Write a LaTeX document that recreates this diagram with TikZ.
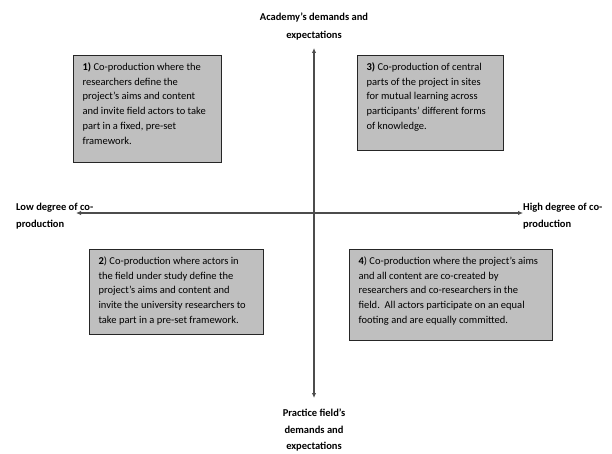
\documentclass[tikz,border=0pt]{standalone}
\usepackage{fontspec}
\setmainfont{Carlito}
\usetikzlibrary{arrows.meta}

\begin{document}
\begin{tikzpicture}[
        x=1pt, y=-1pt,
        quadrant/.style={rectangle, draw=black!85, line width=1.1pt, fill=black!25, anchor=north west, inner xsep=9pt, inner ysep=7pt, font=\fontsize{10.5}{14.8}\selectfont},
        axis/.style={draw=black!70, line width=1.3pt, {Latex[length=5pt,width=4.5pt]}-{Latex[length=5pt,width=4.5pt]}},
        axis_label/.style={font=\fontsize{10.5}{17.5}\selectfont\bfseries, inner sep=0pt}
    ]
        \useasboundingbox (0,0) rectangle (612,454);

        % axes
        \coordinate (axis_left) at (76,213);
        \coordinate (axis_right) at (523,213);
        \coordinate (axis_top) at (314,48);
        \coordinate (axis_bottom) at (314,398);
        \draw[axis] (axis_left) -- (axis_right);
        \draw[axis] (axis_top) -- (axis_bottom);

        % axis labels
        \node[axis_label, align=center, anchor=south] (academy) at (314,40) {Academy’s demands and\\expectations};
        \node[axis_label, align=center, anchor=north, font=\fontsize{10.5}{16.5}\selectfont\bfseries] (practice) at (314,409) {Practice field’s\\demands and\\expectations};
        \node[axis_label, align=left, anchor=west] (low) at (16,216) {Low degree of co-\\production};
        \node[axis_label, align=left, anchor=west] (high) at (523,216) {High degree of co-\\production};

        % quadrant 1: top left
        \node[quadrant] (quad1) at (73,55) {\parbox[t][93pt][t]{130pt}{\raggedright
            \textbf{1)} Co-production where the\\researchers define the\\project’s aims and content\\and invite field actors to take\\part in a fixed, pre-set\\framework.}};

        % quadrant 3: top right
        \node[quadrant] (quad3) at (357,55) {\parbox[t][81pt][t]{128pt}{\raggedright
            \textbf{3)} Co-production of central\\parts of the project in sites\\for mutual learning across\\participants’ different forms\\of knowledge.}};

        % quadrant 2: bottom left
        \node[quadrant] (quad2) at (89,249) {\parbox[t][71pt][t]{156pt}{\raggedright
            \textbf{2}) Co-production where actors in\\the field under study define the\\project’s aims and content and\\invite the university researchers to\\take part in a pre-set framework.}};

        % quadrant 4: bottom right
        \node[quadrant] (quad4) at (349,249) {\parbox[t][77pt][t]{185pt}{\raggedright
            \textbf{4}) Co-production where the project’s aims\\and all content are co-created by\\researchers and co-researchers in the\\field.\ \ All actors participate on an equal\\footing and are equally committed.}};

    \end{tikzpicture}
\end{document}
